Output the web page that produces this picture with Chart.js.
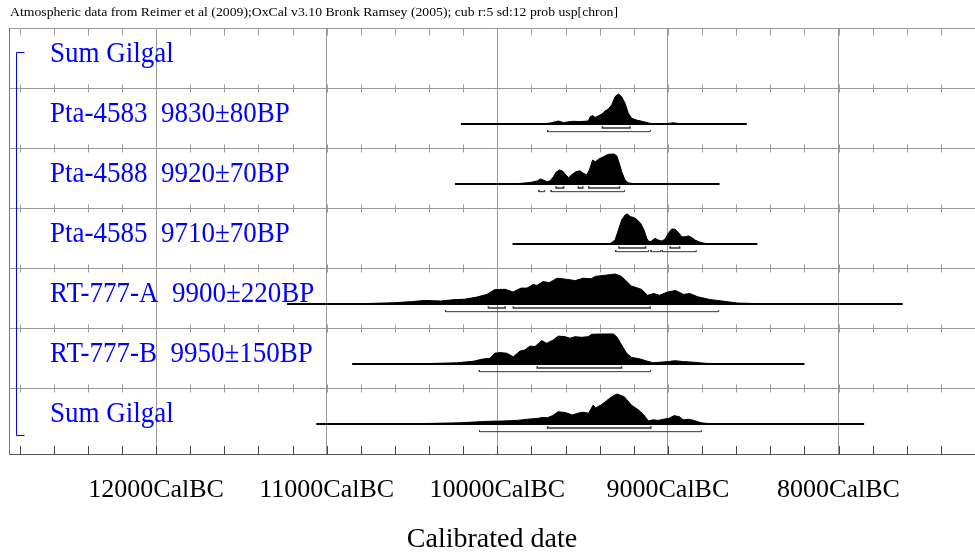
<!DOCTYPE html>
<html>
<head>
<meta charset="utf-8">
<title>Gilgal - calibrated dates</title>
<script src="https://cdn.jsdelivr.net/npm/chart.js@4/dist/chart.umd.min.js"></script>
<style>
  html, body { margin: 0; padding: 0; background: #fff; overflow: hidden; }
  #chart { display: block; }
</style>
</head>
<body>
<canvas id="chart" width="975" height="554"></canvas>
<script>
// OxCal multiplot: Gilgal radiocarbon dates (calibrated)

const header = 'Atmospheric data from Reimer et al (2009);OxCal v3.10 Bronk Ramsey (2005); cub r:5 sd:12 prob usp[chron]';

// rows, top to bottom
const rowLabels = ['Sum Gilgal', 'Pta-4583', 'Pta-4588', 'Pta-4585', 'RT-777-A', 'RT-777-B', 'Sum Gilgal'];
const bpDates = ['', '9830\u00b180BP', '9920\u00b170BP', '9710\u00b170BP', '9900\u00b1220BP', '9950\u00b1150BP', ''];

// x axis (years cal BC, drawn reversed)
const tickValues = [12000, 11000, 10000, 9000, 8000];
const xMinBC = 7200;
const xMaxBC = 12862;
const minorStep = 200;

// extent of each calculated distribution (years cal BC)
const spanStart = [null, 10213, 10248, 9910, 11232, 10850, 11060];
const spanEnd = [null, 8538, 8698, 8476, 7624, 8200, 7850];

// probability curves (relative, peak = 1)
const pta4583Years = [10213, 9730, 9691, 9642, 9613, 9554, 9515, 9466, 9456, 9441, 9427, 9408, 9388, 9369, 9349, 9330, 9310, 9290, 9271, 9251, 9232, 9212, 9183, 9144, 9105, 9066, 9007, 8968, 8929, 8870, 8538];
const pta4583Prob = [0, 0.01, 0.03, 0.1, 0.05, 0.09, 0.08, 0.1, 0.24, 0.28, 0.22, 0.27, 0.33, 0.43, 0.5, 0.63, 0.91, 1.0, 0.91, 0.69, 0.36, 0.19, 0.13, 0.08, 0.02, 0.01, 0.01, 0.04, 0.01, 0, 0];

const pta4588Years = [10248, 9886, 9808, 9765, 9746, 9730, 9710, 9691, 9671, 9656, 9636, 9617, 9597, 9582, 9562, 9539, 9515, 9496, 9476, 9460, 9441, 9425, 9406, 9378, 9349, 9316, 9300, 9285, 9271, 9251, 9232, 9202, 8698];
const pta4588Prob = [0, 0.01, 0.05, 0.1, 0.17, 0.13, 0.08, 0.1, 0.24, 0.39, 0.47, 0.43, 0.3, 0.21, 0.32, 0.41, 0.44, 0.36, 0.3, 0.47, 0.8, 0.74, 0.83, 0.91, 0.99, 1.0, 0.94, 0.69, 0.41, 0.13, 0.04, 0.01, 0];

const pta4585Years = [9910, 9339, 9310, 9290, 9271, 9251, 9238, 9218, 9199, 9179, 9160, 9140, 9124, 9111, 9095, 9076, 9056, 9036, 9017, 8997, 8978, 8958, 8939, 8919, 8900, 8880, 8861, 8841, 8812, 8773, 8476];
const pta4585Prob = [0, 0.01, 0.13, 0.47, 0.8, 0.97, 1.0, 0.91, 0.88, 0.8, 0.69, 0.47, 0.19, 0.08, 0.1, 0.19, 0.13, 0.1, 0.16, 0.36, 0.5, 0.49, 0.39, 0.24, 0.24, 0.27, 0.22, 0.13, 0.06, 0.01, 0];

const rt777aYears = [11232, 10803, 10615, 10497, 10426, 10332, 10261, 10191, 10120, 10061, 10014, 9955, 9908, 9861, 9826, 9790, 9767, 9732, 9696, 9649, 9590, 9543, 9496, 9449, 9426, 9367, 9308, 9272, 9214, 9155, 9119, 9084, 9049, 9002, 8955, 8908, 8872, 8825, 8754, 8684, 8590, 8448, 7624];
const rt777aProb = [0, 0.01, 0.04, 0.08, 0.12, 0.1, 0.14, 0.16, 0.23, 0.32, 0.48, 0.49, 0.4, 0.53, 0.53, 0.65, 0.62, 0.75, 0.71, 0.86, 0.82, 0.78, 0.86, 0.84, 0.92, 0.96, 1.0, 0.92, 0.6, 0.49, 0.29, 0.35, 0.29, 0.4, 0.45, 0.32, 0.35, 0.24, 0.15, 0.1, 0.03, 0.01, 0];

const rt777bYears = [10850, 10434, 10239, 10141, 10082, 10043, 10014, 9984, 9945, 9906, 9867, 9838, 9808, 9779, 9740, 9711, 9672, 9642, 9603, 9574, 9545, 9506, 9467, 9447, 9398, 9320, 9300, 9271, 9242, 9213, 9164, 9125, 9086, 9046, 8998, 8959, 8910, 8851, 8773, 8578, 8200];
const rt777bProb = [0, 0.01, 0.04, 0.09, 0.17, 0.19, 0.36, 0.38, 0.36, 0.24, 0.43, 0.47, 0.6, 0.58, 0.78, 0.69, 0.8, 0.93, 0.91, 0.86, 0.91, 0.89, 0.91, 0.99, 1.0, 1.0, 0.91, 0.63, 0.36, 0.22, 0.17, 0.1, 0.04, 0.06, 0.08, 0.11, 0.08, 0.06, 0.02, 0.01, 0];

const sumYears = [11060, 10470, 10219, 10051, 9968, 9884, 9821, 9758, 9737, 9706, 9675, 9643, 9601, 9560, 9528, 9497, 9465, 9438, 9424, 9392, 9361, 9329, 9298, 9256, 9214, 9172, 9141, 9114, 9089, 9057, 9026, 8994, 8963, 8932, 8911, 8879, 8848, 8806, 8754, 7850];
const sumProb = [0, 0.01, 0.04, 0.09, 0.1, 0.12, 0.16, 0.19, 0.22, 0.21, 0.28, 0.41, 0.38, 0.3, 0.36, 0.39, 0.36, 0.63, 0.54, 0.63, 0.77, 0.91, 1.0, 0.91, 0.63, 0.47, 0.3, 0.1, 0.14, 0.12, 0.16, 0.19, 0.28, 0.24, 0.14, 0.16, 0.12, 0.04, 0.01, 0];

const rowYears = [null, pta4583Years, pta4588Years, pta4585Years, rt777aYears, rt777bYears, sumYears];
const rowProbs = [null, pta4583Prob, pta4588Prob, pta4585Prob, rt777aProb, rt777bProb, sumProb];

// highest probability ranges (from, to) in cal BC
const range68 = [
    [],
    [[9384, 9222]],
    [[9656, 9611], [9525, 9499], [9464, 9283]],
    [[9287, 9131], [8987, 8931]],
    [[10052, 9954], [9906, 9104]],
    [[9766, 9272]],
    [[9705, 9100]]
];
const range95 = [
    [],
    [[9705, 9103]],
    [[9756, 9722], [9684, 9254]],
    [[9306, 9114], [9099, 9042], [9033, 8834]],
    [[10303, 8702]],
    [[10105, 9102]],
    [[10104, 8803]]
];

const serif = '"Liberation Serif", "Times New Roman", serif';
Chart.defaults.font.family = serif;

// row layout in y units (1 unit = one row)
const BASE = 0.6;      // baseline below row top
const PEAK = 0.5;      // height of a peak
const OFF68 = 0.065;
const OFF95 = 0.128;
const HOOK = 0.028;

const datasets = [];
for (let r = 1; r < rowLabels.length; r++) {
    const base = r + BASE;
    datasets.push({
        data: rowYears[r].map((yr, k) => ({ x: yr, y: base - rowProbs[r][k] * PEAK })),
        fill: { value: base },
        backgroundColor: '#000',
        borderColor: '#000',
        borderWidth: 1,
        pointRadius: 0
    });
    datasets.push({
        data: [{ x: spanStart[r], y: base }, { x: spanEnd[r], y: base }],
        borderColor: '#000',
        borderWidth: 2,
        pointRadius: 0,
        fill: false
    });
    [[range68, OFF68, 1.5], [range95, OFF95, 1]].forEach(([ranges, off, w]) => {
        const pts = [];
        ranges[r].forEach(([a, b]) => {
            pts.push({ x: a, y: base + off - HOOK }, { x: a, y: base + off },
                     { x: b, y: base + off }, { x: b, y: base + off - HOOK }, { x: b, y: null });
        });
        datasets.push({
            data: pts,
            borderColor: '#333',
            borderWidth: w,
            pointRadius: 0,
            fill: false,
            spanGaps: false
        });
    });
}

// minor ticks, row labels, bracket and header
const oxcalDecor = {
    id: 'oxcalDecor',
    afterDraw(chart) {
        const { ctx, chartArea, scales: { x, y } } = chart;
        ctx.save();

        ctx.lineWidth = 1;
        for (let bc = Math.ceil(xMinBC / minorStep) * minorStep; bc <= xMaxBC; bc += minorStep) {
            const px = Math.round(x.getPixelForValue(bc)) + 0.5;
            ctx.strokeStyle = '#999';
            ctx.beginPath();
            for (let r = 0; r < rowLabels.length; r++) {
                const py = Math.round(y.getPixelForValue(r)) + 0.5;
                if (r === 0) {
                    ctx.moveTo(px, py);
                    ctx.lineTo(px, py + 7);
                } else {
                    ctx.moveTo(px, py - 4);
                    ctx.lineTo(px, py + 4);
                }
            }
            ctx.stroke();
            ctx.strokeStyle = '#444';
            ctx.beginPath();
            ctx.moveTo(px, chartArea.bottom);
            ctx.lineTo(px, chartArea.bottom - 8);
            ctx.stroke();
        }

        // blue bracket grouping the sum
        const bx = chartArea.left + 7.5;
        const top = Math.round(y.getPixelForValue(0.4)) + 0.5;
        const bot = Math.round(y.getPixelForValue(6.78)) + 0.5;
        ctx.strokeStyle = '#0000ff';
        ctx.beginPath();
        ctx.moveTo(bx + 8, top);
        ctx.lineTo(bx, top);
        ctx.lineTo(bx, bot);
        ctx.lineTo(bx + 8, bot);
        ctx.stroke();

        // row labels
        ctx.fillStyle = '#0000ff';
        ctx.font = '30px ' + serif;
        ctx.textBaseline = 'alphabetic';
        rowLabels.forEach((lab, r) => {
            const text = bpDates[r] ? lab + '  ' + bpDates[r] : lab;
            ctx.save();
            ctx.translate(chartArea.left + 41, y.getPixelForValue(r + 0.567));
            ctx.scale(0.9, 1);
            ctx.fillText(text, 0, 0);
            ctx.restore();
        });

        // header line
        ctx.fillStyle = '#000';
        ctx.font = '13px ' + serif;
        const w = ctx.measureText(header).width;
        ctx.save();
        ctx.translate(10, 16);
        ctx.scale(608 / w, 1);
        ctx.fillText(header, 0, 0);
        ctx.restore();

        ctx.restore();
    }
};

new Chart(document.getElementById('chart'), {
    type: 'line',
    data: { datasets: datasets },
    options: {
        responsive: false,
        animation: false,
        layout: { padding: { top: 28, left: 9, right: 0, bottom: 0 } },
        plugins: {
            legend: { display: false },
            tooltip: { enabled: false }
        },
        scales: {
            x: {
                type: 'linear',
                reverse: true,
                min: xMinBC,
                max: xMaxBC,
                z: 1,
                afterBuildTicks: (scale) => { scale.ticks = tickValues.map(v => ({ value: v })); },
                afterFit: (scale) => { scale.height = 100; },
                border: { color: '#555' },
                grid: { drawTicks: false, color: '#999' },
                ticks: {
                    autoSkip: false,
                    maxRotation: 0,
                    padding: 21,
                    color: '#000',
                    font: { family: serif, size: 26 },
                    callback: (v) => v + 'CalBC'
                },
                title: {
                    display: true,
                    text: 'Calibrated date',
                    color: '#000',
                    font: { family: serif, size: 28, lineHeight: 1.0 },
                    padding: { top: 16, bottom: 0 }
                }
            },
            y: {
                type: 'linear',
                reverse: true,
                min: 0,
                max: 7.1,
                z: 1,
                afterFit: (scale) => { scale.width = 0; },
                border: { color: '#777' },
                grid: {
                    drawTicks: false,
                    color: (c) => (c.tick && Number.isInteger(c.tick.value) && c.tick.value <= 6) ? '#999' : 'rgba(0,0,0,0)'
                },
                ticks: { display: false, stepSize: 1 }
            }
        }
    },
    plugins: [oxcalDecor]
});
</script>
</body>
</html>
